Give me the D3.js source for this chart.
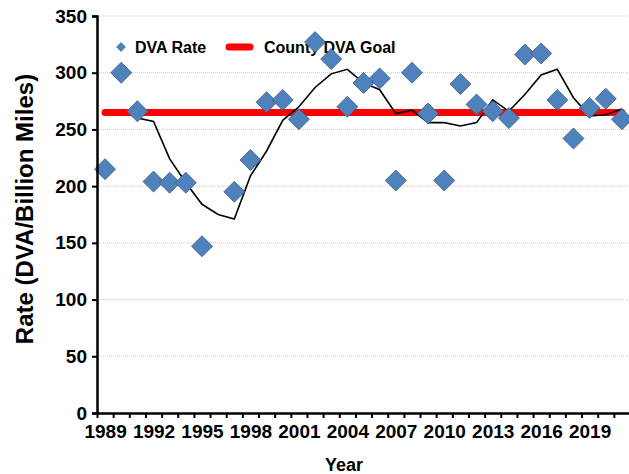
<!DOCTYPE html>
<html>
<head>
<meta charset="utf-8">
<script src="https://cdn.jsdelivr.net/npm/d3@7"></script>
<style>
  body { margin: 0; background: #fff; }
  svg { display: block; font-family: "Liberation Sans", Arial, sans-serif; font-weight: bold; }
</style>
</head>
<body>
<svg id="chart" width="629" height="474"></svg>
<script>
// data
var years = d3.range(1989, 2022);
var dvaRate = [215, 300, 266, 204, 203, 203, 147, null, 195, 223, 274,
  276, 259, 327, 312, 270, 291, 295, 205, 300, 264, 205, 290, 272, 266,
  260, 316, 317, 276, 242, 269, 277, 259];
// 3 year moving average trend line (black)
var movingAvg = [null, null, 260, 257, 224, 203, 184, 175, 171, 209, 231,
  258, 270, 287, 299, 303, 291, 285, 264, 267, 256, 256, 253, 256, 276,
  266, 281, 298, 303, 278, 262, 263, 268];
var goal = 265;
var yTicks = [0, 50, 100, 150, 200, 250, 300, 350];
var xLabelYears = [1989, 1992, 1995, 1998, 2001, 2004, 2007, 2010, 2013, 2016, 2019];

var plotLeft = 97, plotRight = 630, plotTop = 16, plotBottom = 413;

var svg = d3.select("#chart");

var x = d3.scaleLinear().domain([1988.5, 2021.5]).range([plotLeft, plotRight]);
var y = d3.scaleLinear().domain([0, 350]).range([plotBottom, plotTop]);

function diamond(r) {
  return "M0," + (-r) + "L" + r + ",0L0," + r + "L" + (-r) + ",0Z";
}

// gridlines
svg.append("g")
  .selectAll("line")
  .data(yTicks.filter(function(d) { return d > 0; }))
  .enter().append("line")
  .attr("x1", plotLeft).attr("x2", plotRight)
  .attr("y1", function(d) { return y(d); })
  .attr("y2", function(d) { return y(d); })
  .attr("stroke", "#c8c8c8")
  .attr("stroke-width", 1)
  .attr("stroke-dasharray", "1,1");

// legend (sits under the marks)
var legend = svg.append("g").attr("transform", "translate(0,47)");
legend.append("path")
  .attr("d", diamond(4.5))
  .attr("transform", "translate(121,0)")
  .attr("fill", "#4f81bd")
  .attr("stroke", "#3e5a7e")
  .attr("stroke-width", 0.6);
legend.append("text")
  .attr("x", 135).attr("y", 6)
  .attr("font-size", 16)
  .text("DVA Rate");
legend.append("line")
  .attr("x1", 229).attr("x2", 250)
  .attr("stroke", "#ff0000")
  .attr("stroke-width", 7)
  .attr("stroke-linecap", "round");
legend.append("text")
  .attr("x", 264).attr("y", 6)
  .attr("font-size", 16)
  .text("County DVA Goal");

// goal line
svg.append("line")
  .attr("x1", x(years[0])).attr("x2", x(years[years.length - 1]))
  .attr("y1", y(goal)).attr("y2", y(goal))
  .attr("stroke", "#ff0000")
  .attr("stroke-width", 7)
  .attr("stroke-linecap", "round");

// moving average
var line = d3.line()
  .defined(function(d) { return d.v != null; })
  .x(function(d) { return x(d.year); })
  .y(function(d) { return y(d.v); });

svg.append("path")
  .datum(years.map(function(yr, i) { return { year: yr, v: movingAvg[i] }; }))
  .attr("d", line)
  .attr("fill", "none")
  .attr("stroke", "#000")
  .attr("stroke-width", 1.6);

// diamonds
var pts = years.map(function(yr, i) { return { year: yr, v: dvaRate[i] }; })
  .filter(function(d) { return d.v != null; });

svg.append("g")
  .selectAll("path")
  .data(pts)
  .enter().append("path")
  .attr("d", diamond(10.5))
  .attr("transform", function(d) { return "translate(" + x(d.year) + "," + y(d.v) + ")"; })
  .attr("fill", "#4f81bd")
  .attr("stroke", "#3e5a7e")
  .attr("stroke-width", 0.8);

// axes
var yAxis = svg.append("g")
  .attr("transform", "translate(" + plotLeft + ",0)")
  .call(d3.axisLeft(y).tickValues(yTicks).tickSize(5).tickPadding(5));
yAxis.select(".domain").attr("stroke-width", 2.5);
yAxis.selectAll(".tick line").attr("stroke-width", 2);
yAxis.selectAll("text").attr("font-size", 19).attr("font-family", "Liberation Sans, Arial, sans-serif")
  .attr("font-weight", "bold").attr("fill", "#000");

var xTickAxis = svg.append("g")
  .attr("transform", "translate(0," + plotBottom + ")")
  .call(d3.axisBottom(x).tickValues(d3.range(1988.5, 2022, 1)).tickSize(5).tickSizeOuter(0).tickFormat(""));
xTickAxis.select(".domain").attr("stroke-width", 2.5);
xTickAxis.selectAll(".tick line").attr("stroke-width", 2);

var xLabelAxis = svg.append("g")
  .attr("transform", "translate(0," + plotBottom + ")")
  .call(d3.axisBottom(x).tickValues(xLabelYears).tickSize(0).tickPadding(12).tickFormat(d3.format("d")));
xLabelAxis.select(".domain").remove();
xLabelAxis.selectAll("text").attr("font-size", 19).attr("font-family", "Liberation Sans, Arial, sans-serif")
  .attr("font-weight", "bold").attr("fill", "#000");

// axis titles
svg.append("text")
  .attr("x", 344).attr("y", 471)
  .attr("text-anchor", "middle")
  .attr("font-size", 18)
  .text("Year");

svg.append("text")
  .attr("transform", "translate(33,209) rotate(-90)")
  .attr("text-anchor", "middle")
  .attr("font-size", 24)
  .text("Rate (DVA/Billion Miles)");
</script>
</body>
</html>
